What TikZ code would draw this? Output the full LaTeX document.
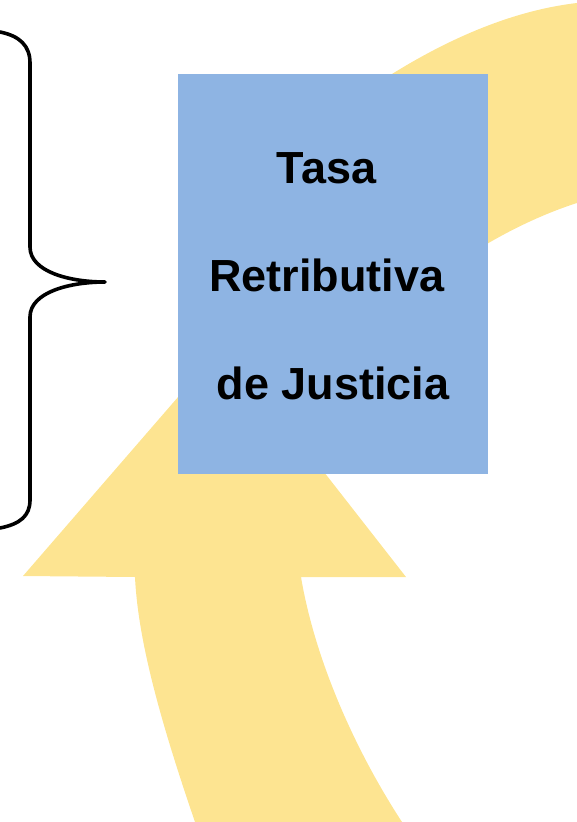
\documentclass[tikz,border=0pt]{standalone}
\usepackage{fontspec}
\setmainfont{Liberation Sans}
\usepackage{tikz}
\usetikzlibrary{calc}
\usepackage{xcolor}
\definecolor{ArrowYellow}{HTML}{FDE491}
\definecolor{BoxBlue}{HTML}{8EB4E3}

\begin{document}
\begin{tikzpicture}[x=1pt, y=-1pt,
    yellowpart/.style={fill=ArrowYellow, draw=none},
    bracestroke/.style={draw=black, line width=3.6pt, line cap=round, line join=round},
    tasabox/.style={fill=BoxBlue, draw=none, minimum width=310pt, minimum height=400pt, inner sep=0pt},
    tasatext/.style={font=\fontsize{45}{54}\selectfont\bfseries, inner sep=0pt, anchor=base}
  ]
    \useasboundingbox (0,0) rectangle (577,822);

    % yellow circular arrow pieces
    \fill[yellowpart] (195,822) .. controls (160,720) and (138,640) .. (135,577) -- (23,576) -- (224,344)
      -- (406,577) -- (301,577) .. controls (315,660) and (355,750) .. (402,822) -- cycle;
    \fill[yellowpart] (360,95) .. controls (425,50) and (500,12) .. (577,3) -- (577,203)
      .. controls (530,218) and (480,245) .. (440,275) -- cycle;

    % brace
    \draw[bracestroke] (0,32) .. controls (20,36) and (30,46) .. (30,63) -- (30,247)
      .. controls (30,272) and (70,282) .. (105,282)
      .. controls (70,282) and (30,292) .. (30,317) -- (30,500)
      .. controls (30,516) and (20,524) .. (0,528);

    \node[tasabox] (tasa) at (333,274) {};
    \node[tasatext] (line1) at (326.5,183) {Tasa};
    \node[tasatext] (line2) at (327,291) {Retributiva};
    \node[tasatext] (line3) at (333,399) {de Justicia};
  \end{tikzpicture}
\end{document}
